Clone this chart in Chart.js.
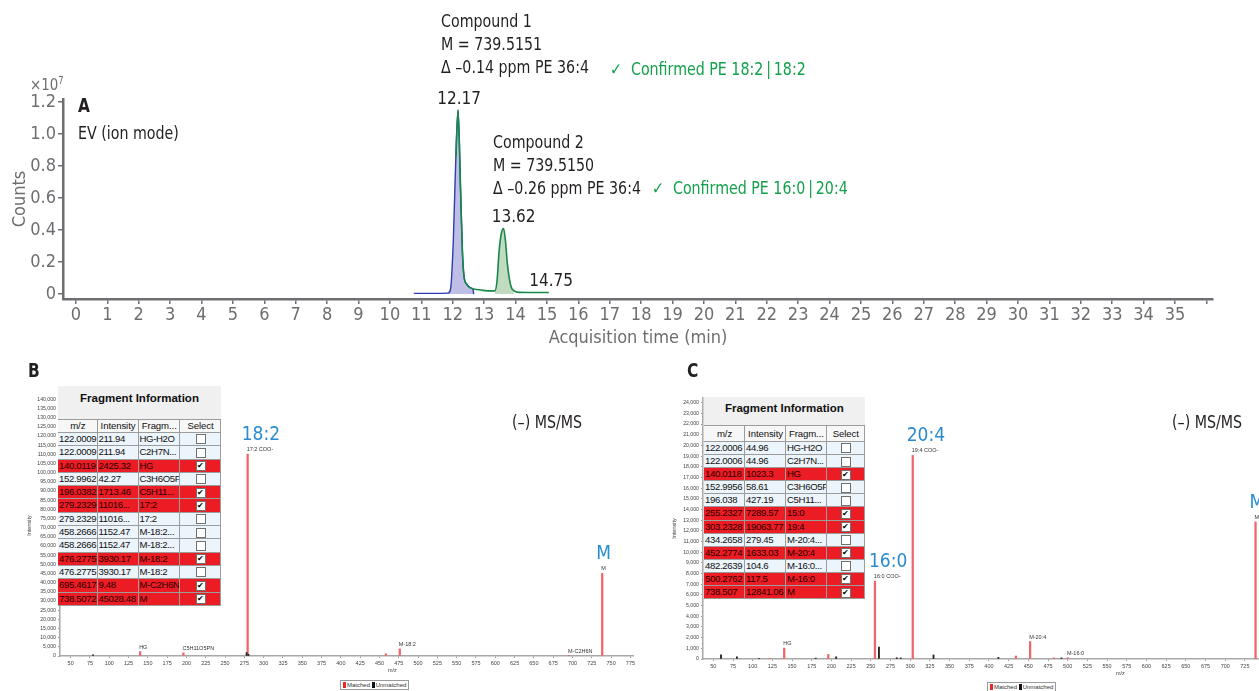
<!DOCTYPE html>
<html>
<head>
<meta charset="utf-8">
<script src="https://cdn.jsdelivr.net/npm/chart.js@4.4.1/dist/chart.umd.min.js"></script>
<style>
  html, body { margin: 0; padding: 0; background: #fff; }
  body { width: 1259px; height: 691px; position: relative; overflow: hidden;
         font-family: "Liberation Sans Narrow", "DejaVu Sans Condensed", Roboto, sans-serif; color: #231f20; }
  canvas { position: absolute; }
  .t { position: absolute; white-space: nowrap; font-size: 17px; line-height: 23px; transform: scaleX(0.93); transform-origin: 0 0; }
  .ok { color: #13a04c; }
  .blab { position: absolute; font-weight: bold; font-size: 19px; transform: scaleX(0.9); transform-origin: 0 0; }
  .ms { position: absolute; font-size: 17px; white-space: nowrap; transform: scaleX(0.93); transform-origin: 0 0; }
  .tiny { position: absolute; font-family: "Liberation Sans", Arial, sans-serif; font-size: 5.5px; color: #444; }
  .legend { position: absolute; border: 1px solid #999; background: #fff; font-family: "Liberation Sans", Arial, sans-serif;
            font-size: 6px; color: #333; padding: 1px 2px; white-space: nowrap; }
  .legend i { display: inline-block; width: 3px; height: 6px; vertical-align: -1px; margin-right: 1px; }
  .frag { position: absolute; background: #f0f0f0; font-family: "Liberation Sans", Arial, sans-serif; }
  .frag .ttl { font-weight: bold; font-size: 11.5px; text-align: center; color: #111; }
  .frag .row { display: flex; }
  .frag .c { box-sizing: border-box; border-right: 1px solid #9c9c9c; border-bottom: 1px solid #9c9c9c;
             font-size: 9.6px; letter-spacing: -0.35px; white-space: nowrap; overflow: hidden; padding-left: 1px; color: #111; }
  .frag .hd .c { background: #f7f7f7; text-align: center; border-top: 1px solid #9c9c9c; letter-spacing: -0.1px; }
  .frag .light .c { background: #edf5fc; }
  .frag .red .c { background: #ec1c24; color: #2a0000; }
  .frag .sel { text-align: center; }
  .box { display: inline-block; width: 8px; height: 8px; background: #fff; border: 1px solid #707070;
         font-size: 8px; line-height: 8px; text-align: center; color: #000; vertical-align: middle; letter-spacing: 0; }
</style>
</head>
<body>
<canvas id="chartA" width="1259" height="360" style="left:0px;top:0px"></canvas>
<canvas id="chartB" width="637" height="311" style="left:0px;top:380px"></canvas>
<canvas id="chartC" width="594" height="311" style="left:665px;top:380px"></canvas>

<div class="t" style="left:30px;top:69px;color:#6d6e71;font-size:16px">&times;10<sup style="font-size:10px">7</sup></div>
<div class="blab" style="left:78px;top:94px">A</div>
<div class="t" style="left:78px;top:122px">EV (ion mode)</div>
<div class="t" style="left:441px;top:10px">Compound 1<br>M = 739.5151<br>&Delta; &ndash;0.14 ppm PE 36:4</div>
<div class="t ok" style="left:610px;top:58px">&#10003;&nbsp; Confirmed PE 18:2&thinsp;|&thinsp;18:2</div>
<div class="t" style="left:493px;top:131px">Compound 2<br>M = 739.5150<br>&Delta; &ndash;0.26 ppm PE 36:4</div>
<div class="t ok" style="left:652px;top:177px">&#10003;&nbsp; Confirmed PE 16:0&thinsp;|&thinsp;20:4</div>

<div class="blab" style="left:28px;top:359px">B</div>
<div class="blab" style="left:687px;top:359px">C</div>
<div class="ms" style="left:512px;top:412px">(&ndash;) MS/MS</div>
<div class="ms" style="left:1172px;top:412px">(&ndash;) MS/MS</div>
<div class="tiny" style="left:388px;top:667px">m/z</div>
<div class="tiny" style="left:1116px;top:670px">m/z</div>
<div class="legend" style="left:340px;top:680px"><i style="background:#e8262c"></i>Matched <i style="background:#111"></i>Unmatched</div>
<div class="legend" style="left:987px;top:682px"><i style="background:#e8262c"></i>Matched <i style="background:#111"></i>Unmatched</div>

<div class="frag" id="fragB" style="left:58px;top:386px"></div>
<div class="frag" id="fragC" style="left:704px;top:397px"></div>

<script>
// ---- Panel A: extracted ion chromatogram (counts x10^7 vs. acquisition time, min)
const eic1Time   = [10.76, 11.3, 11.85, 11.93, 12.02, 12.1, 12.17, 12.25, 12.31, 12.36, 12.45, 12.55, 12.64, 12.67];
const eic1Counts = [0.004, 0.004, 0.006, 0.03, 0.34, 0.86, 1.15, 0.65, 0.26, 0.11, 0.06, 0.04, 0.03, 0.0];
const eic2Time   = [12.1, 12.17, 12.25, 12.31, 12.36, 12.45, 12.55, 12.7, 12.9, 13.1, 13.34, 13.41, 13.48, 13.55, 13.62,
                    13.68, 13.74, 13.8, 13.87, 13.96, 14.05, 14.4, 14.8, 15.06];
const eic2Counts = [0.86, 1.15, 0.65, 0.26, 0.11, 0.06, 0.04, 0.03, 0.025, 0.02, 0.02, 0.08, 0.275, 0.38, 0.41,
                    0.33, 0.19, 0.1, 0.04, 0.02, 0.012, 0.01, 0.01, 0.01];
const peak2Window = [13.34, 13.96];
const peakLabels = ['12.17', '13.62', '14.75'];
const peakLabelTime = [12.17, 13.62, 14.75];
const peakLabelCounts = [1.15, 0.41, 0.01];
const timeTicks = [0, 1, 2, 3, 4, 5, 6, 7, 8, 9, 10, 11, 12, 13, 14, 15, 16, 17, 18, 19, 20, 21, 22, 23, 24, 25,
                   26, 27, 28, 29, 30, 31, 32, 33, 34, 35, 36];
const countTicks = [0, 0.2, 0.4, 0.6, 0.8, 1.0, 1.2];

// ---- Panel B: MS/MS of compound 1
const msB_matchedMz  = [140.01, 196.04, 279.23, 458.27, 476.28, 695.46, 738.51];
const msB_matchedInt = [2425, 1713, 110165, 1152, 3930, 9.48, 45028];
const msB_otherMz    = [79.0, 277.9, 280.3];
const msB_otherInt   = [600, 1800, 900];
const msB_tagMz   = [140.01, 196.04, 279.23, 476.28, 695.46, 738.51];
const msB_tagInt  = [2425, 1713, 110165, 3930, 9.48, 45028];
const msB_tags    = ['HG', 'C5H11O5PN', '17:2 COO-', 'M-18:2', 'M-C2H6N', 'M'];
const msB_callMz  = [279.23, 738.51];
const msB_callInt = [110165, 45028];
const msB_calls   = ['18:2', 'M'];
const msB_intTicks = [0, 140000, 5000];   // first, last, step
const msB_mzTicks  = [50, 775, 25];

const fragB_mz   = ['122.0009', '122.0009', '140.0119', '152.9962', '196.0382', '279.2329', '279.2329', '458.2666',
                    '458.2666', '476.2775', '476.2775', '695.4617', '738.5072'];
const fragB_int  = ['211.94', '211.94', '2425.32', '42.27', '1713.46', '11016...', '11016...', '1152.47', '1152.47',
                    '3930.17', '3930.17', '9.48', '45028.48'];
const fragB_name = ['HG-H2O', 'C2H7N...', 'HG', 'C3H6O5P', 'C5H11...', '17:2', '17:2', 'M-18:2...', 'M-18:2...',
                    'M-18:2', 'M-18:2', 'M-C2H6N', 'M'];
const fragB_sel  = [0, 0, 1, 0, 1, 1, 0, 0, 0, 1, 0, 1, 1];

// ---- Panel C: MS/MS of compound 2
const msC_matchedMz  = [122.0, 140.01, 196.04, 255.23, 303.23, 434.27, 452.28, 482.26, 500.28, 738.51];
const msC_matchedInt = [45, 1023, 427, 7290, 19064, 279, 1633, 105, 118, 12841];
const msC_otherMz    = [59.8, 80.0, 108.0, 180.0, 206.0, 260.3, 283.0, 288.0, 329.6, 412.0, 492.0];
const msC_otherInt   = [400, 200, 60, 80, 200, 1120, 120, 100, 380, 150, 100];
const msC_tagMz   = [140.01, 255.23, 303.23, 452.28, 500.28, 738.51];
const msC_tagInt  = [1023, 7290, 19064, 1633, 118, 12841];
const msC_tags    = ['HG', '16:0 COO-', '19:4 COO-', 'M-20:4', 'M-16:0', 'M'];
const msC_callMz  = [255.23, 303.23, 738.51];
const msC_callInt = [7290, 19064, 12841];
const msC_calls   = ['16:0', '20:4', 'M'];
const msC_intTicks = [0, 24000, 1000];
const msC_mzTicks  = [50, 725, 25];

const fragC_mz   = ['122.0006', '122.0006', '140.0118', '152.9956', '196.038', '255.2327', '303.2328', '434.2658',
                    '452.2774', '482.2639', '500.2762', '738.507'];
const fragC_int  = ['44.96', '44.96', '1023.3', '58.61', '427.19', '7289.57', '19063.77', '279.45', '1633.03',
                    '104.6', '117.5', '12841.06'];
const fragC_name = ['HG-H2O', 'C2H7N...', 'HG', 'C3H6O5P', 'C5H11...', '15:0', '19:4', 'M-20:4...', 'M-20:4',
                    'M-16:0...', 'M-16:0', 'M'];
const fragC_sel  = [0, 0, 1, 0, 0, 1, 1, 0, 1, 0, 1, 1];

const FONT = '"Liberation Sans Narrow", "DejaVu Sans Condensed", Roboto, sans-serif';
const SMALL = '"Liberation Sans", Arial, sans-serif';
const GREY = '#6d6e71';

function xy(xs, ys) {
  return xs.map((x, i) => ({ x, y: ys[i] }));
}

function range([first, last, step]) {
  const out = [];
  for (let v = first; v <= last + 1e-9; v += step) out.push({ value: v });
  return out;
}

// peak apex labels on the chromatogram
const apexLabels = {
  id: 'apexLabels',
  afterDatasetsDraw(chart) {
    const { ctx, scales: { x, y } } = chart;
    const dx = [1, 10, 12];
    ctx.save();
    ctx.font = '17px ' + FONT;
    ctx.fillStyle = '#231f20';
    ctx.textAlign = 'center';
    ctx.textBaseline = 'alphabetic';
    peakLabels.forEach((t, i) => {
      ctx.fillText(t, x.getPixelForValue(peakLabelTime[i]) + dx[i], y.getPixelForValue(peakLabelCounts[i]) - 6);
    });
    ctx.restore();
  }
};

new Chart(document.getElementById('chartA'), {
  type: 'line',
  data: {
    datasets: [
      { data: xy(eic2Time, eic2Counts), borderColor: '#17884a', borderWidth: 1.6, fill: false,
        pointRadius: 0, order: 0, cubicInterpolationMode: 'monotone' },
      { data: xy(eic1Time, eic1Counts), borderColor: '#2f3fb0', borderWidth: 1.4,
        backgroundColor: 'rgba(150,150,214,0.62)', fill: 'origin', pointRadius: 0, order: 1,
        cubicInterpolationMode: 'monotone' },
      { data: xy(eic2Time, eic2Counts).filter(p => p.x >= peak2Window[0] && p.x <= peak2Window[1]),
        borderWidth: 0, backgroundColor: 'rgba(160,200,160,0.65)', fill: 'origin', pointRadius: 0, order: 2,
        cubicInterpolationMode: 'monotone' }
    ]
  },
  options: {
    responsive: false,
    animation: false,
    plugins: { legend: { display: false }, tooltip: { enabled: false } },
    layout: { padding: { left: 0, top: 99, right: 46, bottom: 0 } },
    scales: {
      x: {
        type: 'linear', min: -0.41, max: 36.21,
        afterBuildTicks: s => { s.ticks = timeTicks.map(v => ({ value: v })); },
        afterFit: s => { s.height = 61; },
        ticks: { callback: v => (v <= 35 ? String(v) : ''), color: GREY, font: { family: FONT, size: 18 },
                 padding: 1, maxRotation: 0, autoSkip: false },
        grid: { display: true, drawOnChartArea: false, tickLength: 5, color: GREY, lineWidth: 1.5 },
        border: { display: true, color: GREY, width: 2.5 },
        title: { display: true, text: 'Acquisition time (min)', color: GREY, font: { family: FONT, size: 18 },
                 padding: { top: 0, bottom: 11 } }
      },
      y: {
        min: -0.031, max: 1.219,
        afterBuildTicks: s => { s.ticks = countTicks.map(v => ({ value: v })); },
        afterFit: s => { s.width = 63; },
        ticks: { callback: v => (v === 0 ? '0' : v.toFixed(1)), color: GREY, font: { family: FONT, size: 18 },
                 padding: 2 },
        grid: { display: true, drawOnChartArea: false, tickLength: 5, color: GREY, lineWidth: 1.5 },
        border: { display: true, color: GREY, width: 2.5 },
        title: { display: true, text: 'Counts', color: GREY, font: { family: FONT, size: 18 },
                 padding: { top: 10, bottom: 0 } }
      }
    }
  },
  plugins: [apexLabels]
});

// ---- MS/MS spectra
function spectrumLabels(tagMz, tagInt, tags, callMz, callInt, calls) {
  return {
    id: 'specLabels',
    afterDatasetsDraw(chart) {
      const { ctx, scales: { x, y } } = chart;
      ctx.save();
      ctx.textAlign = 'left';
      ctx.textBaseline = 'alphabetic';
      ctx.fillStyle = '#333';
      ctx.font = '5.5px ' + SMALL;
      tags.forEach((t, i) => {
        ctx.fillText(t, x.getPixelForValue(tagMz[i]) - 1, y.getPixelForValue(tagInt[i]) - 3);
      });
      ctx.fillStyle = '#2b8bd0';
      ctx.font = '19px ' + FONT;
      calls.forEach((t, i) => {
        ctx.fillText(t, x.getPixelForValue(callMz[i]) - 6, y.getPixelForValue(callInt[i]) - 14);
      });
      ctx.restore();
    }
  };
}

function spectrum(id, o) {
  new Chart(document.getElementById(id), {
    type: 'bar',
    data: {
      datasets: [
        { data: xy(o.matchedMz, o.matchedInt), backgroundColor: '#f0656a', barThickness: 1.6, grouped: false, order: 1 },
        { data: xy(o.otherMz, o.otherInt), backgroundColor: '#222', barThickness: 1.2, grouped: false, order: 0 }
      ]
    },
    options: {
      responsive: false,
      animation: false,
      plugins: { legend: { display: false }, tooltip: { enabled: false } },
      layout: { padding: { left: 0, top: o.top, right: 0, bottom: 0 } },
      scales: {
        x: {
          type: 'linear', offset: false, min: o.xmin, max: o.xmax,
          afterBuildTicks: s => { s.ticks = range(o.mzTicks); },
          afterFit: s => { s.height = o.xh; },
          ticks: { autoSkip: false, maxRotation: 0, color: '#444',
                   font: { family: SMALL, size: 5.5 }, padding: 2 },
          grid: { display: true, offset: false, drawOnChartArea: false, tickLength: 2, color: '#9a9a9a' },
          border: { display: true, color: '#a8a8a8', width: 1.5 }
        },
        y: {
          min: 0, max: o.ymax,
          afterBuildTicks: s => { s.ticks = range(o.intTicks); },
          afterFit: s => { s.width = o.yw; },
          ticks: { autoSkip: false, color: '#444',
                   font: { family: SMALL, size: 5.2 }, padding: 2, callback: v => v.toLocaleString('en-US') },
          grid: { display: true, drawOnChartArea: false, tickLength: 2, color: '#9a9a9a' },
          border: { display: true, color: '#a8a8a8', width: 1.5 },
          title: { display: true, text: 'Intensity', color: '#444', font: { family: SMALL, size: 5.5 },
                   padding: { top: o.titlePad, bottom: 0 } }
        }
      }
    },
    plugins: [spectrumLabels(o.tagMz, o.tagInt, o.tags, o.callMz, o.callInt, o.calls)]
  });
}

spectrum('chartB', {
  matchedMz: msB_matchedMz, matchedInt: msB_matchedInt, otherMz: msB_otherMz, otherInt: msB_otherInt,
  tagMz: msB_tagMz, tagInt: msB_tagInt, tags: msB_tags, callMz: msB_callMz, callInt: msB_callInt, calls: msB_calls,
  intTicks: msB_intTicks, mzTicks: msB_mzTicks,
  xmin: 36.2, xmax: 778.8, ymax: 142340, top: 15, xh: 35, yw: 60, titlePad: 26
});
spectrum('chartC', {
  matchedMz: msC_matchedMz, matchedInt: msC_matchedInt, otherMz: msC_otherMz, otherInt: msC_otherInt,
  tagMz: msC_tagMz, tagInt: msC_tagInt, tags: msC_tags, callMz: msC_callMz, callInt: msC_callInt, calls: msC_calls,
  intTicks: msC_intTicks, mzTicks: msC_mzTicks,
  xmin: 36.9, xmax: 742.9, ymax: 24440, top: 18, xh: 32, yw: 38, titlePad: 6
});

// ---- Fragment information tables
function fragTable(id, mz, inten, name, sel, cols, dims) {
  const el = document.getElementById(id);
  const w = cols.reduce((a, b) => a + b, 0);
  let html = `<div class="ttl" style="width:${w}px;height:${dims.title}px;line-height:${dims.titleLine}px">Fragment Information</div>`;
  const cell = (txt, i, extra) =>
    `<div class="c ${extra || ''}" style="width:${cols[i]}px;height:${dims.row}px;line-height:${dims.row - 1}px">${txt}</div>`;
  html += `<div class="row hd" style="height:${dims.head}px">` +
    ['m/z', 'Intensity', 'Fragm...', 'Select'].map((t, i) =>
      `<div class="c" style="width:${cols[i]}px;height:${dims.head}px;line-height:${dims.head - 2}px">${t}</div>`).join('') +
    '</div>';
  mz.forEach((m, r) => {
    const box = `<span class="box">${sel[r] ? '&#10004;' : ''}</span>`;
    html += `<div class="row ${sel[r] ? 'red' : 'light'}">` +
      cell(m, 0) + cell(inten[r], 1) + cell(name[r], 2) + cell(box, 3, 'sel') + '</div>';
  });
  el.innerHTML = html;
}

fragTable('fragB', fragB_mz, fragB_int, fragB_name, fragB_sel, [39.5, 41, 41.5, 41],
          { title: 33, titleLine: 24, head: 14, row: 13.3 });
fragTable('fragC', fragC_mz, fragC_int, fragC_name, fragC_sel, [41, 41, 40.7, 38],
          { title: 28, titleLine: 22, head: 17, row: 13.1 });
</script>
</body>
</html>
